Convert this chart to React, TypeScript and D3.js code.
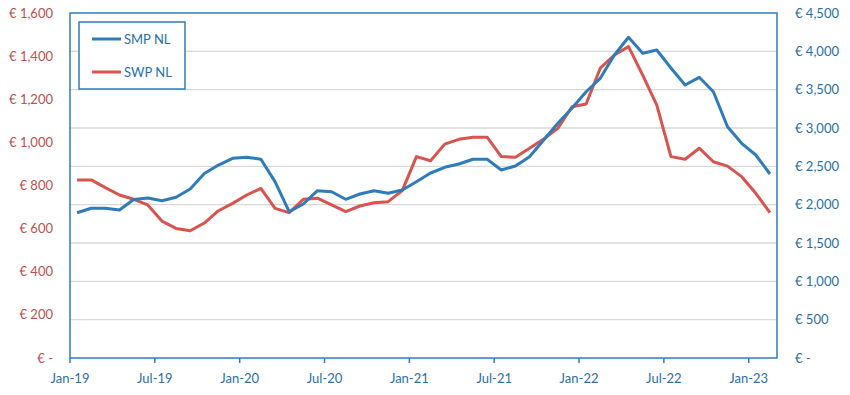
import React from "react";
import * as d3 from "d3";

const months = [
  "Jan-19","Feb-19","Mar-19","Apr-19","May-19","Jun-19","Jul-19","Aug-19","Sep-19","Oct-19","Nov-19","Dec-19",
  "Jan-20","Feb-20","Mar-20","Apr-20","May-20","Jun-20","Jul-20","Aug-20","Sep-20","Oct-20","Nov-20","Dec-20",
  "Jan-21","Feb-21","Mar-21","Apr-21","May-21","Jun-21","Jul-21","Aug-21","Sep-21","Oct-21","Nov-21","Dec-21",
  "Jan-22","Feb-22","Mar-22","Apr-22","May-22","Jun-22","Jul-22","Aug-22","Sep-22","Oct-22","Nov-22","Dec-22",
  "Jan-23","Feb-23",
];

const tickLabels = ["Jan-19","Jul-19","Jan-20","Jul-20","Jan-21","Jul-21","Jan-22","Jul-22","Jan-23"];

// SMP NL (right axis)
const smp = [
  1895, 1953, 1953, 1930, 2067, 2087, 2052, 2096, 2204, 2406, 2517, 2605,
  2618, 2592, 2300, 1908, 2009, 2182, 2169, 2070, 2139, 2182, 2148, 2191,
  2300, 2413, 2487, 2530, 2592, 2592, 2452, 2504, 2626, 2843, 3061, 3257,
  3473, 3648, 3952, 4183, 3974, 4017, 3783, 3561, 3661, 3473, 3017, 2800,
  2648, 2400,
];

// SWP NL (left axis)
const swp = [
  826, 826, 790, 756, 736, 710, 635, 601, 590, 626, 683, 717,
  756, 787, 694, 674, 736, 741, 710, 679, 705, 720, 725, 776,
  934, 915, 992, 1014, 1024, 1024, 934, 931, 973, 1016, 1065, 1165,
  1178, 1344, 1405, 1444, 1312, 1173, 934, 922, 973, 910, 890, 841,
  764, 674,
];

const leftTicks = [0, 200, 400, 600, 800, 1000, 1200, 1400, 1600];
const rightTicks = [0, 500, 1000, 1500, 2000, 2500, 3000, 3500, 4000, 4500];

const BLUE = "#2E7CBA";
const RED = "#D9534F";
const RED_TEXT = "#C0504D";
const BLUE_TEXT = "#2A6FA8";
const FONT = "Lato, 'Open Sans', sans-serif";

const fmt = (v: number) => (v === 0 ? "€ -" : "€ " + d3.format(",")(v));

export default function App() {
  const left = 70, right = 777, top = 13, bottom = 358;
  const x = d3.scaleBand<string>().domain(months).range([left, right]).padding(0);
  const cx = (m: string) => (x(m) as number) + x.bandwidth() / 2;
  const yL = d3.scaleLinear().domain([0, 1600]).range([bottom, top]);
  const yR = d3.scaleLinear().domain([0, 4500]).range([bottom, top]);

  const lineR = d3.line<number>().x((_, i) => cx(months[i])).y((d) => yR(d));
  const lineL = d3.line<number>().x((_, i) => cx(months[i])).y((d) => yL(d));

  return (
    <svg width={850} height={395} style={{ position: "absolute", left: 0, top: 0, display: "block", background: "#fff" }} fontFamily={FONT}>
      {/* gridlines */}
      {rightTicks.slice(1, -1).map((t) => (
        <line key={t} x1={left} x2={right} y1={yR(t)} y2={yR(t)} stroke="#D9D9D9" strokeWidth={1.3} />
      ))}
      {/* plot border */}
      <rect x={left} y={top} width={right - left} height={bottom - top} fill="none" stroke={BLUE} strokeWidth={1.5} />
      {/* x ticks */}
      {tickLabels.map((m) => (
        <g key={m}>
          <line x1={x(m)} x2={x(m)} y1={bottom} y2={bottom + 5} stroke={BLUE} strokeWidth={1.5} />
          <text x={x(m)} y={383} textAnchor="middle" fontSize={13} fill={BLUE_TEXT}>{m}</text>
        </g>
      ))}
      {/* left axis labels */}
      {leftTicks.map((t) => (
        <text key={t} x={53} y={yL(t) + 4.5} textAnchor="end" fontSize={13} fill={RED_TEXT}>{fmt(t)}</text>
      ))}
      {/* right axis labels */}
      {rightTicks.map((t) => (
        <text key={t} x={795} y={yR(t) + 4.5} textAnchor="start" fontSize={13} fill={BLUE_TEXT}>{fmt(t)}</text>
      ))}
      {/* lines */}
      <path d={lineL(swp) || ""} fill="none" stroke={RED} strokeWidth={3} strokeLinejoin="round" />
      <path d={lineR(smp) || ""} fill="none" stroke={BLUE} strokeWidth={3} strokeLinejoin="round" />
      {/* legend */}
      <rect x={79} y={22} width={106} height={67} fill="#fff" stroke={BLUE} strokeWidth={1.5} />
      <line x1={92} x2={121} y1={39} y2={39} stroke={BLUE} strokeWidth={3} />
      <text x={124} y={43.5} fontSize={13} fill={BLUE_TEXT}>SMP NL</text>
      <line x1={92} x2={121} y1={72} y2={72} stroke={RED} strokeWidth={3} />
      <text x={124} y={76.5} fontSize={13} fill={BLUE_TEXT}>SWP NL</text>
    </svg>
  );
}
